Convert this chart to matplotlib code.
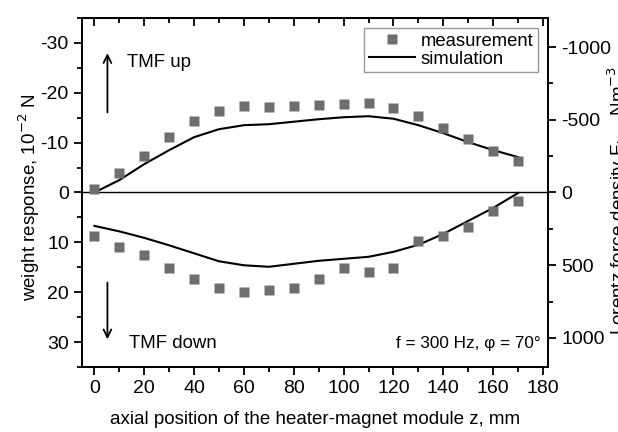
import matplotlib
matplotlib.use("Agg")
import matplotlib.pyplot as plt
from matplotlib.ticker import MultipleLocator

plt.rcParams['font.family'] = ['Liberation Sans', 'DejaVu Sans']
plt.rcParams['axes.unicode_minus'] = False

z = [0, 10, 20, 30, 40, 50, 60, 70, 80, 90, 100, 110, 120, 130, 140, 150, 160, 170]
meas_up = [-0.7, -3.9, -7.4, -11.2, -14.3, -16.3, -17.3, -17.2, -17.4, -17.5, -17.7, -17.9,
           -16.9, -15.3, -13.0, -10.7, -8.3, -6.3]
meas_down = [8.7, 10.9, 12.5, 15.1, 17.3, 19.1, 20.0, 19.6, 19.1, 17.4, 15.1, 16.0,
             15.1, 9.7, 8.7, 6.9, 3.7, 1.8]
sim_up = [0.0, -2.5, -5.7, -8.5, -11.1, -12.7, -13.5, -13.7, -14.2, -14.7, -15.1, -15.3,
          -14.8, -13.5, -11.9, -10.1, -8.5, -7.1]
sim_down = [6.7, 7.8, 9.1, 10.6, 12.2, 13.8, 14.6, 14.9, 14.3, 13.7, 13.3, 12.9,
            11.9, 10.5, 8.3, 5.7, 3.1, 0.1]
right_ticks = [-1000, -500, 0, 500, 1000]

fig = plt.figure(figsize=(6.18, 4.32), dpi=100)
ax = fig.add_axes([0.1327, 0.1505, 0.754, 0.8078])

mc = '#6e6e6e'
ax.plot(z, meas_up, 's', color=mc, ms=7.5, mec='none', label='measurement', zorder=3)
ax.plot(z, meas_down, 's', color=mc, ms=7.5, mec='none', zorder=3)
ax.plot(z, sim_up, '-', color='black', lw=1.5, label='simulation', zorder=2)
ax.plot(z, sim_down, '-', color='black', lw=1.5, zorder=2)
ax.axhline(0, color='black', lw=1.0, zorder=1)

ax.set_xlim(-5, 182)
ax.set_ylim(35, -35)
ax.xaxis.set_major_locator(MultipleLocator(20))
ax.xaxis.set_minor_locator(MultipleLocator(10))
ax.yaxis.set_major_locator(MultipleLocator(10))
ax.yaxis.set_minor_locator(MultipleLocator(5))
ax.tick_params(axis='both', which='major', labelsize=14, width=1.3, length=6, direction='out')
ax.tick_params(axis='both', which='minor', width=1.3, length=3.5, direction='out')
for sp in ax.spines.values():
    sp.set_linewidth(1.3)

# inward ticks on top
secx = ax.secondary_xaxis('top')
secx.xaxis.set_major_locator(MultipleLocator(20))
secx.xaxis.set_minor_locator(MultipleLocator(10))
secx.tick_params(which='major', direction='in', length=6, width=1.3, labeltop=False)
secx.tick_params(which='minor', direction='in', length=3.5, width=1.3)

ax.set_xlabel('axial position of the heater-magnet module z, mm', fontsize=13.5)
ax.xaxis.set_label_coords(0.5, -0.125)
ax.set_ylabel(r'weight response, 10$^{-2}$ N', fontsize=13.5)
ax.yaxis.set_label_coords(-0.086, 0.487)

ax2 = ax.twinx()
ax2.set_ylim(1200, -1200)
ax2.set_yticks(right_ticks)
ax2.yaxis.set_minor_locator(MultipleLocator(250))
ax2.tick_params(axis='y', which='major', labelsize=14, width=1.3, length=6, direction='out')
ax2.tick_params(axis='y', which='minor', width=1.3, length=3.5, direction='out')
ax2.set_ylabel(r'Lorentz force density F$_L$,   Nm$^{-3}$', fontsize=13.5)
ax2.yaxis.set_label_coords(1.1245, 0.478)
for sp in ax2.spines.values():
    sp.set_linewidth(1.3)

ax.annotate('', xy=(5.2, -28.5), xytext=(5.2, -15.5),
            arrowprops=dict(arrowstyle='->', lw=1.3, color='black', mutation_scale=14))
ax.text(13.2, -26, 'TMF up', fontsize=13.4, va='center', ha='left')
ax.annotate('', xy=(5.2, 30), xytext=(5.2, 17.5),
            arrowprops=dict(arrowstyle='->', lw=1.3, color='black', mutation_scale=14))
ax.text(14, 30.2, 'TMF down', fontsize=13.4, va='center', ha='left')
ax.text(179, 30.2, 'f = 300 Hz, φ = 70°', fontsize=12.3, va='center', ha='right')

leg = ax.legend(loc='upper right', bbox_to_anchor=(0.9785, 0.971), fontsize=13.3,
                frameon=True, fancybox=False, edgecolor='#999999', framealpha=1,
                borderaxespad=0.0, handlelength=2.5, handletextpad=0.3,
                labelspacing=0.05, borderpad=0.25)
leg.get_frame().set_linewidth(1.0)

fig.savefig('out.png', dpi=100)
